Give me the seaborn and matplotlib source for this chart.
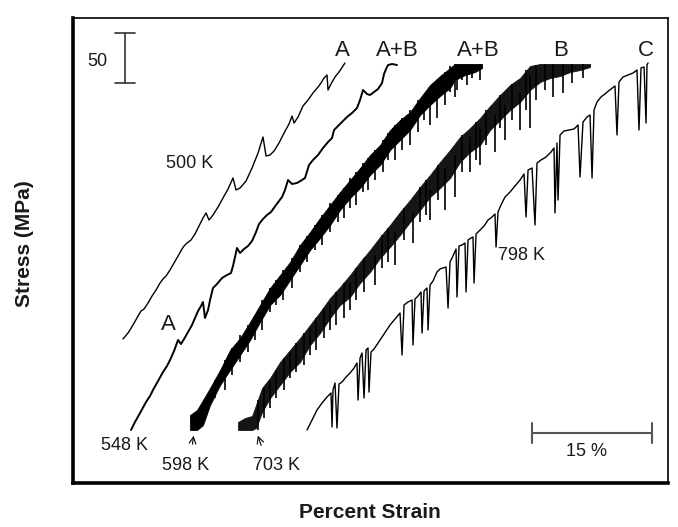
import matplotlib
matplotlib.use("Agg")
import matplotlib.pyplot as plt
import numpy as np
import pandas as pd
import seaborn as sns

# ---------------- data (strain in %, stress in MPa, arbitrary offsets) ----------------
s500_strain = [6.25, 6.88, 7.5, 8.13, 8.5, 8.88, 9.38, 9.88, 10.38, 10.88, 11.25, 11.63, 12.13, 12.63,
               13.13, 13.63, 13.88, 14.25, 14.75, 15.25, 15.75, 16.25, 16.63, 17.0, 17.5, 18.13, 18.75,
               19.38, 20.0, 20.38, 20.88, 21.63, 22.38, 23.13, 23.75, 24.13, 24.63, 25.13, 25.75, 26.38,
               27.0, 27.38, 27.63, 28.13, 28.75, 29.38, 30.0, 30.63, 31.0, 31.38, 31.75, 31.88, 32.25,
               32.75, 33.25, 33.75, 34.0]
s500_stress = [144, 150, 158, 167, 172, 174, 180, 187, 193, 200, 204, 207, 213, 220,
               227, 234, 237, 240, 243, 249, 257, 265, 270, 263, 268, 276, 285,
               294, 305, 293, 295, 302, 315, 330, 346, 327, 328, 332, 340, 350,
               359, 367, 360, 366, 377, 383, 390, 396, 400, 405, 408, 393, 399,
               406, 411, 417, 420]

s548_strain = [7.25, 7.75, 8.38, 9.13, 9.63, 10.0, 10.63, 11.25, 11.75, 12.13, 12.63, 13.13, 13.5, 13.88,
               14.38, 14.88, 15.25, 15.63, 16.0, 16.25, 16.5, 16.88, 17.13, 17.5, 18.0, 18.63, 19.25,
               19.75, 20.0, 20.25, 20.5, 20.88, 21.38, 21.88, 22.38, 22.88, 23.25, 23.75, 24.25, 24.75,
               25.38, 26.13, 26.5, 26.88, 27.38, 28.0, 28.63, 29.0, 29.5, 30.0, 30.63, 31.25, 31.88,
               32.38, 32.63, 33.13, 33.75, 34.25, 34.88, 35.5, 35.88, 36.25, 36.75, 37.13, 37.63, 38.13,
               38.63, 38.88, 39.13, 39.38, 39.88, 40.5]
s548_stress = [53, 61, 70, 81, 87, 93, 102, 111, 117, 123, 132, 143, 139, 144,
               151, 158, 165, 172, 177, 181, 165, 173, 183, 195, 199, 205, 208,
               210, 217, 226, 235, 230, 234, 237, 242, 251, 259, 264, 268, 271,
               278, 286, 293, 303, 299, 300, 303, 305, 318, 323, 328, 335, 341,
               345, 353, 357, 362, 366, 370, 375, 383, 393, 389, 388, 391, 394,
               400, 409, 414, 418, 419, 418]

# 598 K: dense serrations -> envelope of the serrated band plus individual drops
s598_strain = [14.63, 15.5, 16.25, 17.13, 18.38, 19.63, 20.88, 22.13, 23.38, 24.63, 25.88, 27.13, 28.38,
               29.63, 30.88, 32.13, 33.38, 34.63, 35.88, 37.13, 38.38, 39.63, 40.88, 42.13, 43.38, 44.63,
               45.88, 47.13, 47.75, 49.0, 50.25, 51.13]
s598_upper = [68, 73, 83, 95, 113, 133, 145, 161, 178, 195, 208, 221, 238,
              251, 265, 278, 291, 303, 315, 328, 338, 353, 363, 371, 385, 398,
              407, 415, 419, 419, 419, 419]
s598_lower = [53, 53, 58, 78, 98, 113, 128, 143, 161, 178, 188, 203, 218,
              233, 245, 258, 273, 285, 295, 308, 318, 333, 343, 353, 368, 378,
              387, 395, 403, 408, 411, 415]
s598_spike_strain = [19.0, 20.88, 23.63, 26.25, 28.38, 32.13, 34.63, 37.75, 40.25, 42.13, 44.63, 45.5,
                     47.75, 48.0, 49.25, 50.88,
                     17.75, 19.88, 21.88, 22.75, 24.63, 25.38, 27.38, 29.25, 30.25, 31.13, 33.13, 33.88,
                     35.38, 36.25, 36.88, 38.75, 39.38, 41.13, 43.13, 43.88, 46.5, 47.13, 48.63, 49.88]
s598_spike_top = [123, 148, 183, 213, 238, 280, 305, 333, 358, 373, 395, 403, 419, 419, 419, 419,
                  103, 135, 158, 168, 195, 203, 225, 247, 258, 268, 288, 295,
                  311, 320, 325, 343, 350, 365, 383, 388, 411, 417, 419, 419]
s598_spike_bottom = [93, 121, 153, 183, 211, 251, 275, 303, 323, 338, 358, 365, 386, 393, 398, 403,
                     85, 108, 131, 143, 171, 178, 195, 221, 233, 238, 261, 265,
                     278, 291, 293, 311, 323, 333, 351, 363, 378, 391, 403, 405]

# 703 K: dense serrations -> envelope of the serrated band plus individual drops
s703_strain = [20.63, 21.5, 22.38, 22.88, 23.63, 24.63, 25.88, 27.13, 28.38, 29.63, 30.88, 32.13, 33.38,
               34.63, 35.88, 37.13, 38.38, 39.63, 40.88, 42.13, 43.38, 44.63, 45.88, 47.13, 48.38, 49.63,
               50.88, 52.13, 53.38, 54.63, 55.88, 57.13, 58.38, 59.63, 60.88, 62.13, 63.38, 64.63]
s703_upper = [61, 65, 67, 78, 95, 105, 121, 133, 145, 158, 171, 185, 196,
              208, 221, 233, 246, 258, 271, 283, 296, 308, 321, 333, 346, 355,
              365, 377, 388, 398, 405, 417, 419, 419, 419, 419, 419, 419]
s703_lower = [53, 53, 53, 55, 71, 85, 98, 111, 121, 138, 150, 165, 178,
              186, 200, 211, 225, 236, 248, 261, 273, 286, 295, 305, 321, 331,
              338, 353, 363, 373, 381, 393, 401, 405, 407, 411, 413, 416]
s703_spike_strain = [23.13, 24.63, 27.13, 29.63, 32.13, 34.63, 37.75, 40.25, 42.5, 44.63, 46.5, 47.75,
                     49.63, 50.88, 52.75, 54.0, 55.88, 57.13, 60.0, 61.25, 62.38, 63.75,
                     23.88, 25.38, 26.38, 27.88, 28.88, 30.38, 31.38, 32.88, 33.88, 35.38, 36.38, 38.63,
                     39.38, 41.38, 43.38, 44.13, 45.63, 48.63, 50.38, 51.63, 53.38, 54.88, 56.63, 57.88,
                     59.0]
s703_spike_top = [83, 103, 131, 155, 178, 200, 228, 251, 270, 293, 315, 328,
                  346, 355, 368, 378, 391, 408, 419, 419, 419, 419,
                  95, 113, 125, 140, 150, 165, 175, 191, 200, 215, 225, 248,
                  255, 275, 296, 303, 318, 348, 361, 373, 388, 399, 413, 418,
                  419]
s703_spike_bottom = [53, 75, 105, 128, 153, 173, 198, 218, 240, 263, 273, 286,
                     311, 318, 331, 343, 353, 355, 386, 390, 400, 405,
                     65, 85, 93, 111, 118, 133, 145, 158, 165, 183, 191, 215,
                     221, 243, 261, 268, 283, 311, 323, 338, 355, 363, 373, 383,
                     393]

s798_strain = [29.25, 29.88, 30.5, 31.13, 31.75, 32.25, 32.38, 32.5, 32.75, 33.0, 33.25, 33.63, 34.13,
               34.63, 35.13, 35.5, 35.63, 35.88, 36.13, 36.38, 36.63, 36.88, 37.0, 37.25, 37.63, 38.13,
               38.63, 39.13, 39.63, 40.25, 40.88, 41.13, 41.38, 41.88, 42.38, 42.5, 42.75, 43.13, 43.5,
               43.63, 43.88, 44.25, 44.38, 44.63, 45.0, 45.5, 45.88, 46.25, 46.63, 46.88, 47.13, 47.5,
               47.88, 48.0, 48.25, 48.63, 49.0, 49.13, 49.38, 49.75, 50.0, 50.13, 50.38, 50.88, 51.38,
               51.88, 52.38, 52.75, 52.88, 53.13, 53.5, 54.0, 54.63, 55.25, 55.88, 56.38, 56.63, 56.88,
               57.38, 57.75, 58.0, 58.5, 59.13, 59.75, 60.13, 60.25, 60.5, 60.63, 60.88, 61.38, 62.0,
               62.63, 63.13, 63.38, 63.75, 64.25, 64.63, 64.88, 65.13, 65.5, 66.0, 66.63, 67.25, 67.75,
               68.0, 68.25, 68.75, 69.38, 70.0, 70.5, 70.75, 71.0, 71.38, 71.63, 71.75, 71.88]
s798_stress = [53, 63, 73, 80, 86, 90, 56, 93, 100, 55, 99, 101, 106,
               110, 115, 120, 83, 125, 130, 85, 133, 135, 91, 131, 134, 140,
               146, 152, 158, 164, 170, 128, 178, 181, 183, 138, 184, 187, 191,
               150, 192, 195, 153, 198, 202, 211, 214, 215, 216, 175, 221, 227,
               234, 186, 237, 238, 240, 191, 243, 245, 246, 200, 249, 253, 257,
               263, 266, 269, 236, 271, 278, 286, 291, 297, 303, 309, 266, 313,
               315, 258, 320, 323, 326, 331, 335, 270, 340, 283, 348, 352, 353,
               354, 358, 306, 361, 366, 368, 305, 373, 381, 386, 390, 394, 397,
               348, 401, 406, 408, 410, 413, 353, 415, 416, 360, 418, 420]

curve_labels = ["500 K", "548 K", "598 K", "703 K", "798 K"]
mode_labels = ["A", "A+B", "A+B", "B", "C"]
scale_stress = 50   # MPa scale bar
scale_strain = 15   # % scale bar

# ---------------- figure ----------------
sns.set_theme(style="white")
plt.rcParams["font.family"] = ["Liberation Sans", "DejaVu Sans"]

fig = plt.figure(figsize=(6.78, 5.27), dpi=100)
ax = fig.add_axes([73 / 678, 44 / 527, 595 / 678, 465 / 527])
ax.set_xlim(0, 74.375)
ax.set_ylim(0, 465)
ax.set_xticks([])
ax.set_yticks([])
for side, sp in ax.spines.items():
    sp.set_visible(True)
    sp.set_color("black")
    sp.set_linewidth(2.6 if side in ("left", "bottom") else 1.2)

line_kw = dict(sort=False, estimator=None, color="black", ax=ax, legend=False)
sns.lineplot(x=s500_strain, y=s500_stress, lw=1.0, **line_kw)
sns.lineplot(x=s548_strain, y=s548_stress, lw=1.4, **line_kw)
sns.lineplot(x=s798_strain, y=s798_stress, lw=1.0, **line_kw)

ax.fill_between(s598_strain, s598_lower, s598_upper, color="black", lw=0.6)
ax.vlines(s598_spike_strain, s598_spike_bottom, s598_spike_top, color="black", lw=1.2)
ax.fill_between(s703_strain, s703_lower, s703_upper, color="#151515", lw=0.6)
ax.vlines(s703_spike_strain, s703_spike_bottom, s703_spike_top, color="black", lw=1.2)

tc = "#1a1a1a"
# curve temperature labels
ax.text(14.63, 319, curve_labels[0], fontsize=13, ha="center", va="center", color=tc)
ax.text(6.38, 38, curve_labels[1], fontsize=13, ha="center", va="center", color=tc)
ax.text(14.13, 17, curve_labels[2], fontsize=13, ha="center", va="center", color=tc)
ax.text(25.38, 17, curve_labels[3], fontsize=13, ha="center", va="center", color=tc)
ax.text(56.0, 228, curve_labels[4], fontsize=13, ha="center", va="center", color=tc)

# serration type labels
for xm, lab in zip([33.63, 40.5, 50.63, 61.0, 71.63], mode_labels):
    ax.text(xm, 432, lab, fontsize=16, ha="center", va="center", color=tc)
ax.text(11.88, 158, "A", fontsize=16, ha="center", va="center", color=tc)

# arrows to start points
ax.annotate("", xy=(15.13, 50), xytext=(14.88, 36),
            arrowprops=dict(arrowstyle="->", lw=0.8, color="black"))
ax.annotate("", xy=(23.0, 50), xytext=(23.63, 35),
            arrowprops=dict(arrowstyle="->", lw=0.8, color="black"))

# stress scale bar
bx, by = 6.5, 400
ax.plot([bx, bx], [by, by + scale_stress], color="#333333", lw=1.2)
ax.plot([5.25, 7.75], [by, by], color="#333333", lw=1.2)
ax.plot([5.25, 7.75], [by + scale_stress, by + scale_stress], color="#333333", lw=1.2)
ax.text(3.0, 421, str(scale_stress), fontsize=13, ha="center", va="center", color=tc)

# strain scale bar
sx, sy = 57.38, 50
ax.plot([sx, sx + scale_strain], [sy, sy], color="#555555", lw=1.5)
ax.plot([sx, sx], [sy - 10, sy + 10], color="#555555", lw=1.5)
ax.plot([sx + scale_strain, sx + scale_strain], [sy - 10, sy + 10], color="#555555", lw=1.5)
ax.text(64.25, 32, f"{scale_strain} %", fontsize=13, ha="center", va="center", color=tc)

fig.text(370 / 678, 1 - 513 / 527, "Percent Strain", fontsize=15, fontweight="bold",
         ha="center", va="center", color=tc)
fig.text(25 / 678, 1 - 244 / 527, "Stress (MPa)", fontsize=15, fontweight="bold",
         ha="center", va="center", rotation=90, color=tc)

fig.savefig("out.png", dpi=100, facecolor="white")
